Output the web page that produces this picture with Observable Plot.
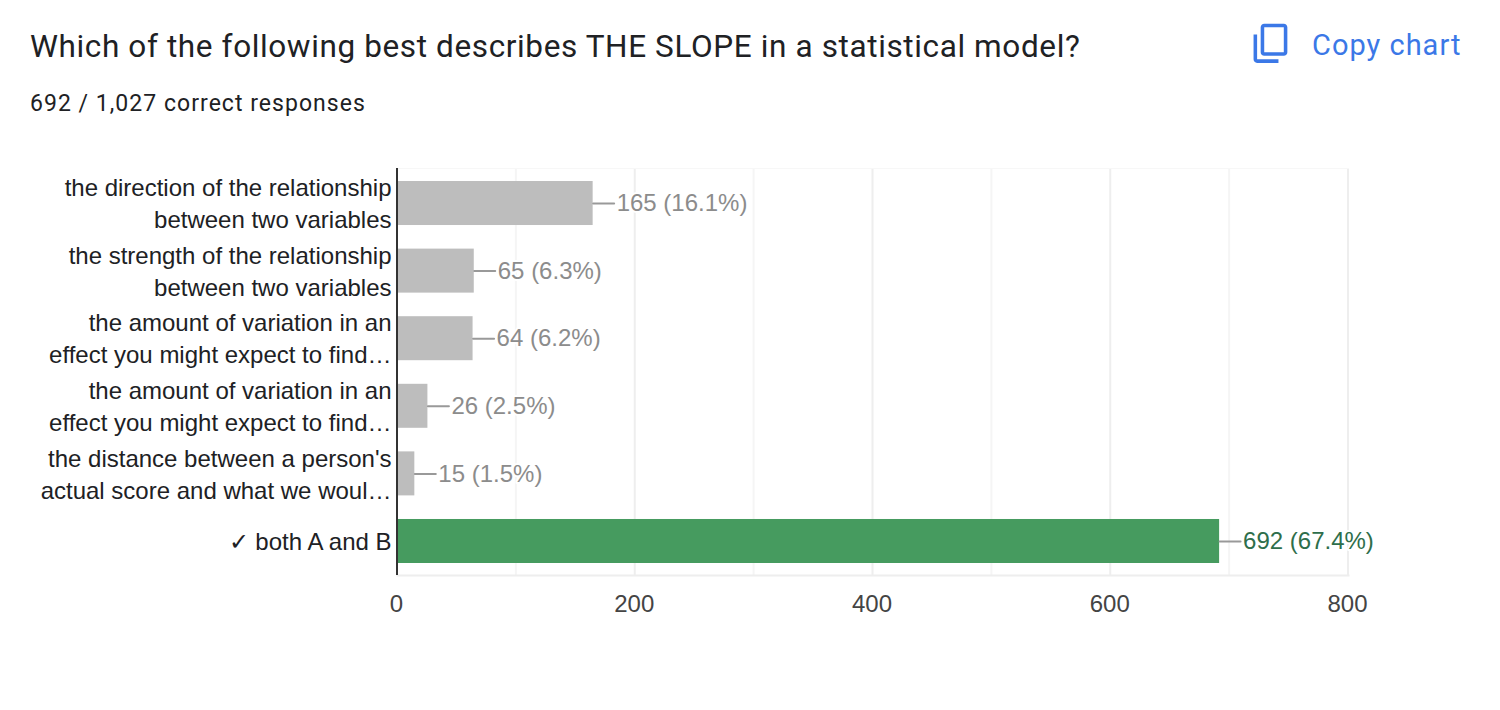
<!DOCTYPE html>
<html>
<head>
<meta charset="utf-8">
<script src="https://cdn.jsdelivr.net/npm/d3@7"></script>
<script src="https://cdn.jsdelivr.net/npm/@observablehq/plot@0.6"></script>
<style>
html,body{margin:0;padding:0;background:#fff;overflow:hidden}
#head{position:relative;width:1500px;height:140px}
#title{position:absolute;left:30px;top:29px;font:400 31.5px/36px Roboto,sans-serif;letter-spacing:.62px;color:#202124;white-space:nowrap}
#sub{position:absolute;left:30px;top:90px;font:400 23px/28px Roboto,sans-serif;letter-spacing:1.03px;color:#202124;white-space:nowrap}
#copy{position:absolute;left:1312px;top:27px;font:400 29px/36px Roboto,sans-serif;letter-spacing:1px;color:#3b78e7;white-space:nowrap}
#icon{position:absolute;left:1250.4px;top:22.2px;width:42.7px;height:42.7px;transform:scaleY(-1);fill:#3b78e7}
#chart svg{display:block}
</style>
</head>
<body>
<div id="head">
  <div id="title">Which of the following best describes THE SLOPE in a statistical model?</div>
  <div id="sub">692 / 1,027 correct responses</div>
  <svg id="icon" viewBox="0 0 24 24"><path d="M16 1H4c-1.1 0-2 .9-2 2v14h2V3h12V1zm3 4H8c-1.1 0-2 .9-2 2v14c0 1.1.9 2 2 2h11c1.1 0 2-.9 2-2V7c0-1.1-.9-2-2-2zm0 16H8V7h11v14z"/></svg>
  <div id="copy">Copy chart</div>
</div>
<div id="chart"></div>
<script>
const categories = [
  "the direction of the relationship\nbetween two variables",
  "the strength of the relationship\nbetween two variables",
  "the amount of variation in an\neffect you might expect to find…",
  "the amount of variation in an\neffect you might expect to find…",
  "the distance between a person's\nactual score and what we woul…",
  "✓ both A and B"
];
const counts = [165, 65, 64, 26, 15, 692];
const percents = ["16.1%", "6.3%", "6.2%", "2.5%", "1.5%", "67.4%"];
const correct = [false, false, false, false, false, true];
const majorTicks = [0, 200, 400, 600, 800];
const minorTicks = [100, 300, 500, 700];

const rows = categories.map((c, i) => ({
  i, value: counts[i], label: `${counts[i]} (${percents[i]})`, correct: correct[i]
}));
const font = "Liberation Sans, Arial, sans-serif";
const connector = {draw(ctx, l) { ctx.moveTo(0, 0); ctx.lineTo(0, -l); }};

const plot = Plot.plot({
  width: 1500,
  height: 500,
  marginTop: 28,
  marginBottom: 65,
  marginLeft: 397,
  marginRight: 152,
  style: {fontFamily: font, background: "#fff"},
  x: {domain: [0, 800], axis: null},
  y: {domain: categories.map((c, i) => i), paddingInner: 0.349, paddingOuter: 0.185, round: false, axis: null},
  marks: [
    Plot.ruleX(minorTicks, {stroke: "#f5f5f5", strokeWidth: 2, dx: -0.5}),
    Plot.ruleX(majorTicks.slice(1), {stroke: "#eeeeee", strokeWidth: 2, dx: -0.5}),
    Plot.frame({anchor: "top", stroke: "#f7f7f7", strokeWidth: 1}),
    Plot.frame({anchor: "bottom", stroke: "#eeeeee", strokeWidth: 2}),
    Plot.barX(rows, {
      x: "value", y: "i", dx: -0.5, dy: 0.5,
      fill: d => d.correct ? "#469b5f" : "#bdbdbd"
    }),
    Plot.vector(rows, {
      x: "value", y: "i", length: 21, rotate: 90, anchor: "start", dx: -0.5, dy: 0.5,
      shape: connector, stroke: "#999999", strokeWidth: 2
    }),
    Plot.text(rows, {
      x: "value", y: "i", text: "label", dx: 23, dy: 0.5, textAnchor: "start",
      fontSize: 24, fill: d => d.correct ? "#2e6e4b" : "#8c8c8c",
      stroke: "#fff", strokeWidth: 4, paintOrder: "stroke"
    }),
    Plot.ruleX([0], {stroke: "#333333", strokeWidth: 2, dx: -0.5}),
    Plot.axisY({
      anchor: "left", tickSize: 0, tickPadding: 6, fontSize: 24, label: null,
      lineHeight: 32 / 24, color: "#202124", dy: -1,
      tickFormat: i => categories[i]
    }),
    Plot.axisX(majorTicks, {
      anchor: "bottom", tickSize: 0, tickPadding: 19, fontSize: 24, color: "#444444", label: null, dx: -1,
      tickFormat: d => String(d)
    })
  ]
});
document.getElementById("chart").appendChild(plot);
</script>
</body>
</html>
